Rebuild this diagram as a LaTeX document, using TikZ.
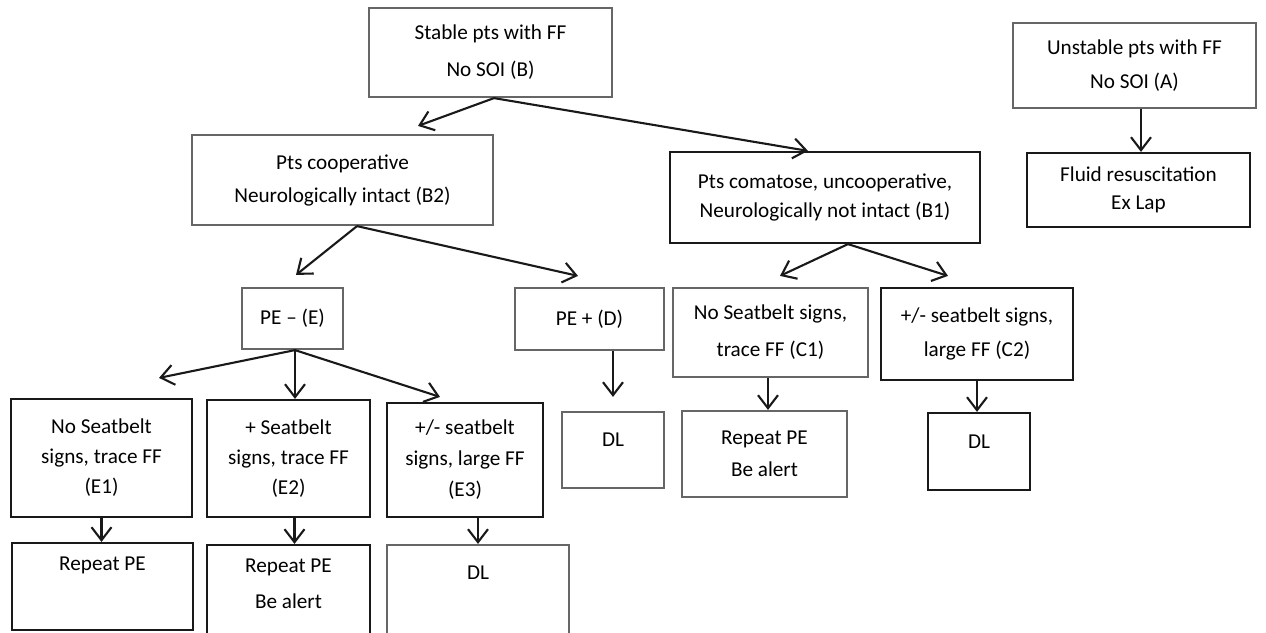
\documentclass[tikz,border=0pt]{standalone}
\usepackage{fontspec}
\setmainfont{Carlito}
\usetikzlibrary{arrows.meta}
\begin{document}
\begin{tikzpicture}[x=0.5pt,y=-0.5pt,
  box/.style={draw=black!60, line width=1.1pt, rectangle, inner sep=0pt, align=center,
    font=\fontsize{10.6}{15.5}\selectfont, text=black},
  boxk/.style={box, draw=black!90},
  txt/.style={inner sep=0pt, align=center, font=\fontsize{10.6}{18}\selectfont, text=black},
  arr/.style={line width=1.05pt, draw=black!90, -{Straight Barb[length=6.5pt,width=10pt,line width=1.05pt]}}
]
\useasboundingbox (0,0) rectangle (1266,633);

% top row
\node[box, minimum width=121.5pt, minimum height=44.5pt, font=\fontsize{10.6}{18.5}\selectfont] (B) at (490.5,52.5) {Stable pts with FF\\No SOI (B)};
\node[box, minimum width=121.5pt, minimum height=42.5pt, font=\fontsize{10.6}{17}\selectfont] (A) at (1134.5,65.5) {Unstable pts with FF\\No SOI (A)};
\node[boxk, minimum width=111.5pt, minimum height=37pt, font=\fontsize{10.6}{14}\selectfont] (Fl) at (1138.5,190) {Fluid resuscitation\\Ex Lap};

% second row
\node[box, minimum width=150.5pt, minimum height=45pt, font=\fontsize{10.6}{16.5}\selectfont] (B2) at (342.5,180) {Pts cooperative\\Neurologically intact (B2)};
\node[boxk, minimum width=155pt, minimum height=45.5pt, font=\fontsize{10.6}{14.5}\selectfont] (B1) at (825,197.5) {Pts comatose, uncooperative,\\Neurologically not intact (B1)};

% third row
\node[box, minimum width=50.5pt, minimum height=30.5pt] (PEm) at (292.5,318.5) {PE -- (E)};
\node[box, minimum width=74.5pt, minimum height=31pt] (PEp) at (589.5,319) {PE + (D)};
\node[box, minimum width=97.5pt, minimum height=44.5pt, font=\fontsize{10.6}{18.5}\selectfont] (C1) at (770.5,332.5) {No Seatbelt signs,\\trace FF (C1)};
\node[boxk, minimum width=96pt, minimum height=46pt, font=\fontsize{10.6}{17}\selectfont] (C2) at (977,334) {+/- seatbelt signs,\\large FF (C2)};

% fourth row
\node[boxk, minimum width=90.5pt, minimum height=59pt, font=\fontsize{10.6}{15}\selectfont] (E1) at (101.5,458) {No Seatbelt\\signs, trace FF\\(E1)};
\node[boxk, minimum width=81.5pt, minimum height=58.5pt, font=\fontsize{10.6}{15}\selectfont] (E2) at (288.5,458.5) {+ Seatbelt\\signs, trace FF\\(E2)};
\node[boxk, minimum width=78pt, minimum height=57pt, font=\fontsize{10.6}{15.5}\selectfont] (E3) at (465,460) {+/- seatbelt\\signs, large FF\\(E3)};

\node[box, minimum width=51pt, minimum height=38pt] (DLD) at (613,450) {};
\node[txt] (DLDt) at (613,440) {DL};
\node[box, minimum width=82.5pt, minimum height=43pt, font=\fontsize{10.6}{16}\selectfont] (RC1) at (764.5,454) {Repeat PE\\Be alert};
\node[boxk, minimum width=51pt, minimum height=38.5pt] (DLC2) at (979,451.5) {};
\node[txt] (DLC2t) at (979,442) {DL};

% bottom row
\node[boxk, minimum width=90.5pt, minimum height=43.5pt] (RP1) at (102.5,586.5) {};
\node[txt] (RP1t) at (102.5,565) {Repeat PE};
\node[boxk, minimum width=81.5pt, minimum height=50pt] (RP2) at (288.5,595) {};
\node[txt] (RP2t) at (288.5,583.5) {Repeat PE\\Be alert};
\node[box, minimum width=91pt, minimum height=50pt] (DLE3) at (478,595) {};
\node[txt] (DLE3t) at (478,573) {DL};

% connectors
\draw[arr] ([shift={(3.5,0)}]B.south) -- ([shift={(75.5,-8)}]B2.north);
\draw[arr] ([shift={(3.5,0)}]B.south) -- ([shift={(-17,0)}]B1.north);
\draw[arr] ([shift={(2.5,0)}]Fl.north |- A.south) -- ([shift={(2.5,0)}]Fl.north);

\draw[arr] ([shift={(14.5,0)}]B2.south) -- ([shift={(3.5,-12)}]PEm.north);
\draw[arr] ([shift={(14.5,0)}]B2.south) -- ([shift={(-11.5,-11)}]PEp.north);
\draw[arr] ([shift={(23,0)}]B1.south) -- ([shift={(9.5,-11)}]C1.north);
\draw[arr] ([shift={(23,0)}]B1.south) -- ([shift={(-29,-11)}]C2.north);

\draw[arr] (DLD.north |- PEp.south) -- ([shift={(0,-14)}]DLD.north);
\draw[arr] ([shift={(-2.5,0)}]C1.south) -- ([shift={(-2.5,0)}]C1.south |- RC1.north);
\draw[arr] (C2.south) -- (C2.south |- DLC2.north);

\draw[arr] ([shift={(2.5,0)}]PEm.south) -- ([shift={(57.5,-20)}]E1.north);
\draw[arr] ([shift={(2.5,0)}]PEm.south) -- ([shift={(2.5,0)}]PEm.south |- E2.north);
\draw[arr] ([shift={(2.5,0)}]PEm.south) -- ([shift={(-25,-5)}]E3.north);

\draw[arr] (E1.south) -- (E1.south |- RP1.north);
\draw[arr] ([shift={(6,0)}]E2.south) -- ([shift={(6,0)}]E2.south |- RP2.north);
\draw[arr] (DLE3.north |- E3.south) -- (DLE3.north);
\end{tikzpicture}
\end{document}
